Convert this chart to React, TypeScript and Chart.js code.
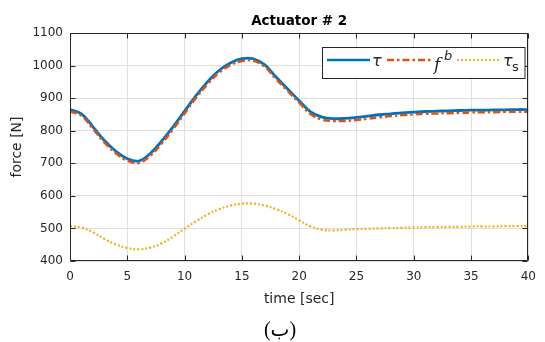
import React, { useEffect, useRef } from "react";
import { Chart, registerables } from "chart.js";

Chart.register(...registerables);

const timeSec = [0, 1, 2, 3, 4, 5, 6, 7, 8, 9, 10, 11, 12, 13, 14, 15, 16, 17, 18, 19, 20, 21, 22, 23, 24, 25, 26, 27, 28, 29, 30, 31, 32, 33, 34, 35, 36, 37, 38, 39, 40];

const tau = [865, 852, 812, 770, 737, 714, 707, 730, 768, 812, 860, 908, 950, 985, 1008, 1021, 1021, 1002, 964, 928, 892, 858, 842, 837, 838, 841, 845, 849, 852, 855, 857, 859, 860, 861, 862, 863, 863, 864, 864, 865, 865];

const fb = [859, 846, 806, 764, 731, 708, 701, 723, 761, 805, 853, 901, 943, 978, 1001, 1014, 1015, 996, 958, 922, 886, 851, 834, 830, 830, 833, 837, 841, 845, 848, 850, 852, 853, 854, 855, 856, 857, 857, 858, 858, 858];

const tauS = [507, 503, 488, 468, 451, 440, 436, 441, 454, 475, 499, 522, 543, 559, 570, 576, 576, 570, 559, 544, 525, 506, 496, 494, 496, 498, 499, 500, 501, 502, 503, 504, 504, 505, 505, 506, 506, 506, 507, 507, 507];

const xTickValues = [0, 5, 10, 15, 20, 25, 30, 35, 40];
const yTickValues = [400, 500, 600, 700, 800, 900, 1000, 1100];

const titleText = "Actuator # 2";
const xTitle = "time [sec]";
const yTitle = "force [N]";
const captionText = "(ب)";

const BLUE = "#0072BD";
const RED = "#D95319";
const YELLOW = "#EDB120";
const INK = "#262626";
const FONT = '"DejaVu Sans", "Liberation Sans", sans-serif';

const toPoints = (ys: number[]) => ys.map((y, i) => ({ x: timeSec[i], y }));

const framePlugin = {
  id: "frame",
  afterDatasetsDraw(chart: any) {
    const { ctx, chartArea: a, scales } = chart;
    ctx.save();
    ctx.strokeStyle = INK;
    ctx.lineWidth = 1;
    const L = Math.round(a.left) + 0.5;
    const R = Math.round(a.right) - 0.5;
    const T = Math.round(a.top) + 0.5;
    const B = Math.round(a.bottom) - 0.5;
    ctx.beginPath();
    ctx.rect(L, T, R - L, B - T);
    const tl = 5;
    for (const v of xTickValues) {
      const x = Math.round(scales.x.getPixelForValue(v)) + 0.5;
      ctx.moveTo(x, B); ctx.lineTo(x, B - tl);
      ctx.moveTo(x, T); ctx.lineTo(x, T + tl);
    }
    for (const v of yTickValues) {
      const y = Math.round(scales.y.getPixelForValue(v)) + 0.5;
      ctx.moveTo(L, y); ctx.lineTo(L + tl, y);
      ctx.moveTo(R, y); ctx.lineTo(R - tl, y);
    }
    ctx.stroke();

    // legend
    const lx = 322.5, ly = 47.5, lw = 202.5, lh = 31;
    ctx.fillStyle = "#ffffff";
    ctx.fillRect(lx, ly, lw, lh);
    ctx.strokeStyle = INK;
    ctx.lineWidth = 1;
    ctx.strokeRect(lx, ly, lw, lh);
    const yy = 60;
    ctx.lineCap = "butt";
    ctx.strokeStyle = BLUE; ctx.lineWidth = 2.5; ctx.setLineDash([]);
    ctx.beginPath(); ctx.moveTo(327, yy); ctx.lineTo(370, yy); ctx.stroke();
    ctx.strokeStyle = RED; ctx.lineWidth = 2.5; ctx.setLineDash([7, 3, 2.5, 3]);
    ctx.beginPath(); ctx.moveTo(387, yy); ctx.lineTo(431, yy); ctx.stroke();
    ctx.strokeStyle = YELLOW; ctx.lineWidth = 2; ctx.setLineDash([2, 2]);
    ctx.beginPath(); ctx.moveTo(457, yy); ctx.lineTo(499, yy); ctx.stroke();
    ctx.setLineDash([]);
    ctx.fillStyle = INK;
    ctx.textBaseline = "alphabetic";
    ctx.textAlign = "left";
    ctx.font = `italic 16px ${FONT}`;
    ctx.fillText("τ", 372, 66);
    ctx.font = `italic 17px "DejaVu Serif", serif`;
    ctx.fillText("f", 434, 70);
    ctx.font = `italic 13px ${FONT}`;
    ctx.fillText("b", 444, 60);
    ctx.font = `italic 16px ${FONT}`;
    ctx.fillText("τ", 503, 66);
    ctx.font = `13px ${FONT}`;
    ctx.fillText("s", 512, 71);
    ctx.restore();
  },
  afterDraw(chart: any) {
    const { ctx, chartArea: a } = chart;
    ctx.save();
    ctx.fillStyle = "#000000";
    ctx.textAlign = "center";
    ctx.textBaseline = "middle";
    const cx = (a.left + a.right) / 2;
    ctx.font = `bold 13.5px ${FONT}`;
    ctx.fillText(titleText, cx, 21);
    ctx.fillStyle = INK;
    ctx.font = `14px ${FONT}`;
    ctx.fillText(xTitle, cx, 299);
    ctx.save();
    ctx.translate(17, (a.top + a.bottom) / 2);
    ctx.rotate(-Math.PI / 2);
    ctx.fillText(yTitle, 0, 0);
    ctx.restore();
    ctx.fillStyle = "#000000";
    ctx.font = `20px "Liberation Serif", "DejaVu Sans", serif`;
    ctx.fillText(captionText, 280, 331);
    ctx.restore();
  },
};

export default function App() {
  const ref = useRef<HTMLCanvasElement | null>(null);
  useEffect(() => {
    if (!ref.current) return;
    const chart = new Chart(ref.current, {
      type: "line",
      data: {
        datasets: [
          {
            label: "tau",
            data: toPoints(tau),
            borderColor: BLUE,
            borderWidth: 2.8,
            pointRadius: 0,
            tension: 0.4,
            order: 2,
          },
          {
            label: "fb",
            data: toPoints(fb),
            borderColor: RED,
            borderWidth: 2.5,
            borderDash: [7, 3, 2.5, 3],
            pointRadius: 0,
            tension: 0.4,
            order: 1,
          },
          {
            label: "tau_s",
            data: toPoints(tauS),
            borderColor: YELLOW,
            borderWidth: 2.2,
            borderDash: [2, 2],
            pointRadius: 0,
            tension: 0.4,
            order: 0,
          },
        ],
      },
      options: {
        animation: false,
        responsive: false,
        devicePixelRatio: 1,
        layout: { padding: { top: 33, right: 6, left: 0, bottom: 0 } },
        plugins: { legend: { display: false }, tooltip: { enabled: false }, title: { display: false } },
        scales: {
          x: {
            type: "linear",
            min: 0,
            max: 40,
            afterFit: (s: any) => { s.height = 81; },
            afterBuildTicks: (s: any) => { s.ticks = xTickValues.map((v) => ({ value: v })); },
            border: { display: false },
            grid: { color: "#e0e0e0", lineWidth: 1, drawTicks: false },
            ticks: { color: INK, font: { family: FONT, size: 12 }, padding: 9, maxRotation: 0, callback: (v: any) => String(v) },
          },
          y: {
            type: "linear",
            min: 400,
            max: 1100,
            afterFit: (s: any) => { s.width = 70; },
            afterBuildTicks: (s: any) => { s.ticks = yTickValues.map((v) => ({ value: v })); },
            border: { display: false },
            grid: { color: "#e0e0e0", lineWidth: 1, drawTicks: false },
            ticks: { color: INK, font: { family: FONT, size: 12 }, padding: 7, callback: (v: any) => String(v) },
          },
        },
      },
      plugins: [framePlugin],
    } as any);
    return () => chart.destroy();
  }, []);
  return (
    <div style={{ position: "absolute", left: 0, top: 0, width: 545, height: 342, background: "#ffffff" }}>
      <canvas ref={ref} width={545} height={342} style={{ width: 545, height: 342, display: "block" }} />
    </div>
  );
}
